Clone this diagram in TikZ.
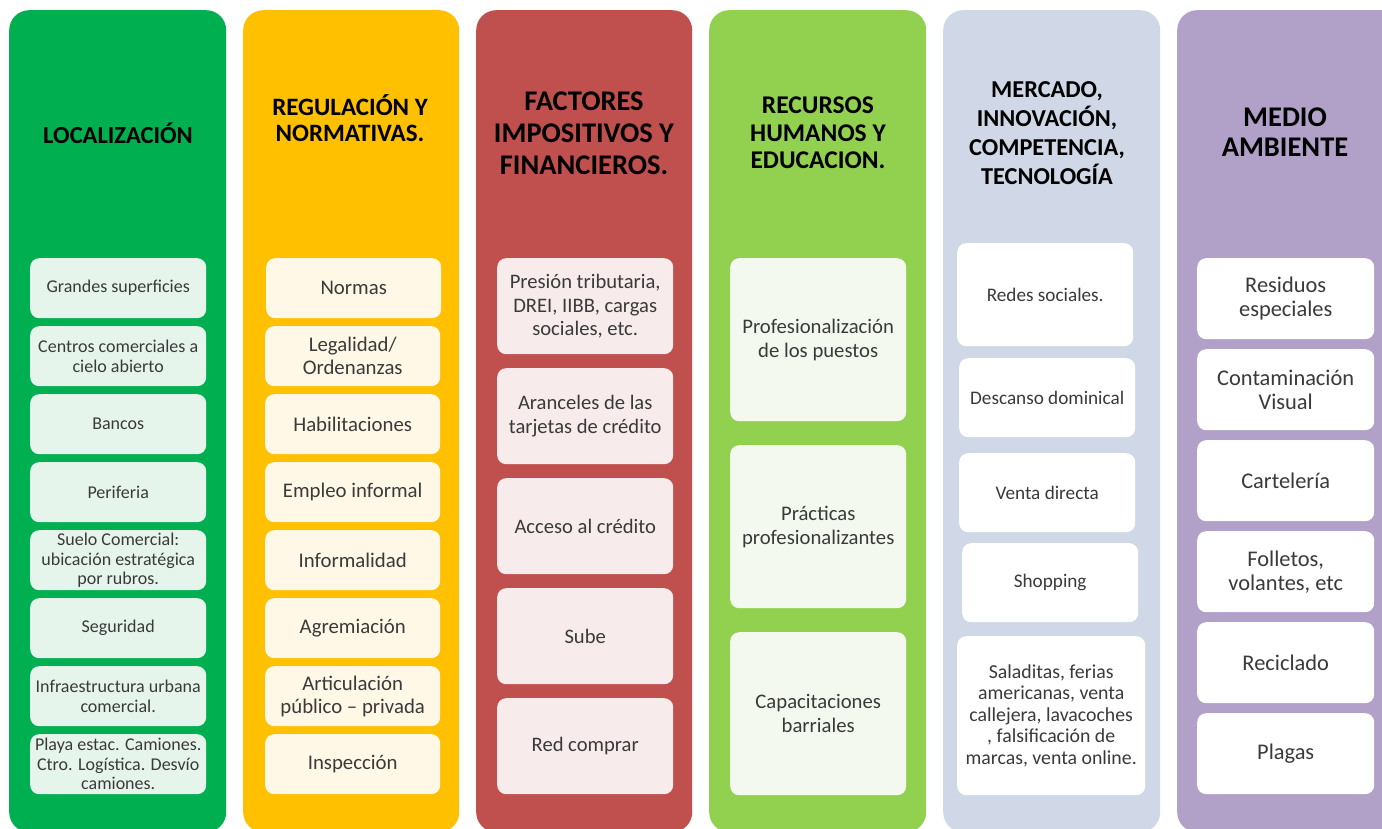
\documentclass[tikz,border=0pt]{standalone}
\usepackage{fontspec}
\setmainfont{Carlito}
\definecolor{cA}{HTML}{00B050}
\definecolor{cB}{HTML}{FFC000}
\definecolor{cC}{HTML}{C0504D}
\definecolor{cD}{HTML}{92D050}
\definecolor{cE}{HTML}{D0D8E8}
\definecolor{cF}{HTML}{B1A0C7}
\definecolor{fA}{HTML}{E6F5EC}
\definecolor{fB}{HTML}{FFF8E6}
\definecolor{fC}{HTML}{F7EBEB}
\definecolor{fD}{HTML}{F3F9EE}
\definecolor{fE}{HTML}{FFFFFF}
\definecolor{fF}{HTML}{FFFFFF}
\definecolor{txt}{HTML}{3A3A3A}
\newcommand{\fs}[2]{\fontsize{#1}{#2}\selectfont}
\begin{document}
\begin{tikzpicture}[x=1pt,y=-1pt,
  colbox/.style={rounded corners=20pt, anchor=north west, inner sep=0pt, minimum width=#1},
  ttl/.style={font=\bfseries, align=center, text=black, inner sep=0pt},
  itm/.style={rounded corners=9pt, inner sep=0pt, align=center, text=txt, anchor=north west}]
\useasboundingbox (0,0) rectangle (1382,829);
\fill[white] (0,0) rectangle (1382,829);

% columns
\node[colbox=217pt, fill=cA, minimum height=822pt] (colA) at (9,10) {};
\node[colbox=216pt, fill=cB, minimum height=822pt] (colB) at (243,10) {};
\node[colbox=216pt, fill=cC, minimum height=822pt] (colC) at (476,10) {};
\node[colbox=217pt, fill=cD, minimum height=822pt] (colD) at (709,10) {};
\node[colbox=217pt, fill=cE, minimum height=822pt] (colE) at (943,10) {};
\node[colbox=230pt, fill=cF, minimum height=822pt] (colF) at (1177,10) {};

% titles
\node[ttl, font=\bfseries\fs{24.5}{25}] (tA) at (118,133) {LOCALIZACIÓN};
\node[ttl, font=\bfseries\fs{25}{25.5}] (tB) at (350,118) {REGULACIÓN Y\\NORMATIVAS.};
\node[ttl, font=\bfseries\fs{28.5}{32}] (tC) at (584,133) {FACTORES\\IMPOSITIVOS Y\\FINANCIEROS.};
\node[ttl, font=\bfseries\fs{25.5}{27.5}] (tD) at (818,133) {RECURSOS\\HUMANOS Y\\EDUCACION.};
\node[ttl, font=\bfseries\fs{24.3}{29}] (tE) at (1047,133) {MERCADO,\\INNOVACIÓN,\\COMPETENCIA,\\TECNOLOGÍA};
\node[ttl, font=\bfseries\fs{28.5}{30}] (tF) at (1285,132) {MEDIO\\AMBIENTE};

% column A items
\tikzset{iA/.style={itm, fill=fA, minimum width=176pt, minimum height=60pt, font=\fs{18}{19.5}}}
\node[iA] (a1) at (30,258) {Grandes superficies};
\node[iA] (a2) at (30,326) {Centros comerciales a\\cielo abierto};
\node[iA] (a3) at (30,394) {Bancos};
\node[iA] (a4) at (30,462) {Periferia};
\node[iA] (a5) at (30,530) {Suelo Comercial:\\ubicación estratégica\\por rubros.};
\node[iA] (a6) at (30,598) {Seguridad};
\node[iA] (a7) at (30,666) {Infraestructura urbana\\comercial.};
\node[iA] (a8) at (30,734) {Playa estac. Camiones.\\Ctro. Logística. Desvío\\camiones.};

% column B items
\tikzset{iB/.style={itm, fill=fB, minimum width=175pt, minimum height=60pt, font=\fs{20.8}{23}}}
\node[iB] (b1) at (266,258) {Normas};
\node[iB] (b2) at (265,326) {Legalidad/\\Ordenanzas};
\node[iB] (b3) at (265,394) {Habilitaciones};
\node[iB] (b4) at (265,462) {Empleo informal};
\node[iB] (b5) at (265,530) {Informalidad};
\node[iB] (b6) at (265,598) {Agremiación};
\node[iB] (b7) at (265,666) {Articulación\\público -- privada};
\node[iB] (b8) at (265,734) {Inspección};

% column C items
\tikzset{iC/.style={itm, fill=fC, minimum width=176pt, minimum height=96pt, font=\fs{20.6}{23.5}}}
\node[iC] (c1) at (497,258) {Presión tributaria,\\DREI, IIBB, cargas\\sociales, etc.};
\node[iC] (c2) at (497,368) {Aranceles de las\\tarjetas de crédito};
\node[iC] (c3) at (497,478) {Acceso al crédito};
\node[iC] (c4) at (497,588) {Sube};
\node[iC] (c5) at (497,698) {Red comprar};

% column D items
\tikzset{iD/.style={itm, fill=fD, minimum width=176pt, minimum height=163pt, font=\fs{20.7}{24}}}
\node[iD] (d1) at (730,258) {Profesionalización\\de los puestos};
\node[iD] (d2) at (730,445) {Prácticas\\profesionalizantes};
\node[iD] (d3) at (730,632) {Capacitaciones\\barriales};

% column E items
\tikzset{iE/.style={itm, fill=fE, minimum width=176pt, font=\fs{19.2}{21}}}
\node[iE, minimum height=103pt] (e1) at (957,243) {Redes sociales.};
\node[iE, minimum height=79pt] (e2) at (959,358) {Descanso dominical};
\node[iE, minimum height=79pt] (e3) at (959,453) {Venta directa};
\node[iE, minimum height=79pt] (e4) at (962,543) {Shopping};
\node[iE, minimum width=188pt, minimum height=159pt, font=\fs{19.8}{21.5}] (e5) at (957,636) {Saladitas, ferias\\americanas, venta\\callejera, lavacoches\\, falsificación de\\marcas, venta online.};

% column F items
\tikzset{iF/.style={itm, fill=fF, minimum width=177pt, minimum height=81pt, font=\fs{22.4}{24}}}
\node[iF] (f1) at (1197,258) {Residuos\\especiales};
\node[iF] (f2) at (1197,349) {Contaminación\\Visual};
\node[iF] (f3) at (1197,440) {Cartelería};
\node[iF] (f4) at (1197,531) {Folletos,\\volantes, etc};
\node[iF] (f5) at (1197,622) {Reciclado};
\node[iF] (f6) at (1197,713) {Plagas};
\end{tikzpicture}
\end{document}
